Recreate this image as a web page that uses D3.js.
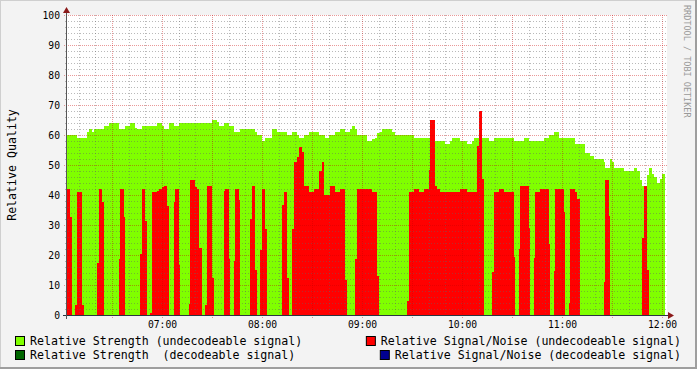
<!DOCTYPE html>
<html>
<head>
<meta charset="utf-8">
<script src="https://cdn.jsdelivr.net/npm/d3@7"></script>
<style>
  body { margin: 0; background: #f3f3f3; }
  svg { display: block; }
  text { font-family: "DejaVu Sans Mono", monospace; }
</style>
</head>
<body>
<script>
// minutes after 06:00, value from that minute until the next change
const strengthMinutes = [3, 9, 15, 16, 18, 19, 25, 28, 34, 38, 41, 44, 45, 48, 57, 60, 61, 64, 67, 70, 90, 93, 94, 97, 100, 103, 107, 116, 117, 120, 122, 126, 129, 135, 138, 141, 142, 145, 148, 154, 158, 160, 164, 167, 170, 173, 174, 176, 177, 183, 186, 188, 189, 191, 192, 198, 200, 211, 224, 230, 233, 234, 239, 243, 246, 247, 256, 259, 271, 277, 280, 289, 292, 295, 298, 308, 314, 317, 319, 325, 326, 329, 330, 331, 337, 343, 345, 347, 348, 351, 352, 354, 355, 357, 359, 360];
const strengthValues = [60, 59, 61, 62, 61, 62, 63, 64, 62, 63, 64, 62.5, 62, 63, 64, 63, 62, 64, 63, 64, 65, 64.5, 63, 64, 63, 61, 62, 61, 60, 58, 59, 62, 61, 60, 61, 60, 59, 60, 61, 60, 59, 60, 61, 62, 61, 62, 63, 62, 60, 58, 58.7, 59, 60.6, 61, 62, 61, 60, 59, 58, 57, 58, 59, 58, 57, 58, 59, 58, 59, 58, 59, 58, 59, 60, 61, 59, 57, 54, 53, 52, 51, 49, 52, 51, 49, 48, 49, 48, 45, 43, 46.7, 49, 47, 46, 44, 45.3, 47];

const snrMinutes = [3, 5, 6, 8, 9, 12, 13, 21, 22, 24, 25, 34, 35, 37, 38, 47, 48, 50, 51, 53, 54, 57, 58, 60, 61, 63, 64, 67, 68, 70, 71, 76, 77, 80, 81, 82, 84, 86, 87, 90, 91, 97, 98, 100, 101, 103, 104, 106, 107, 113, 114, 116, 117, 119, 120, 122, 123, 132, 133, 135, 136, 138, 139, 141, 142, 144, 145, 148, 151, 154, 156, 157, 161, 164, 167, 170, 171, 176, 177, 186, 189, 190, 207, 208, 211, 214, 217, 220, 221, 224, 225, 227, 239, 243, 249, 250, 252, 253, 258, 259, 262, 265, 271, 272, 274, 275, 280, 281, 283, 284, 287, 292, 293, 295, 296, 301, 302, 304, 305, 308, 309, 311, 325, 326, 328, 329, 348, 349, 351, 352];
const snrValues = [42, 32.6, 0, 3.3, 40.9, 3.3, 0, 17.2, 42, 37.8, 0, 18.7, 42, 32.6, 0, 20.3, 42, 31.4, 0, 0.6, 40.9, 41.4, 42, 42.6, 43.1, 36.4, 0, 37.8, 42, 16.7, 0, 3.7, 45, 42.6, 42, 22.2, 0, 3.3, 43.1, 12.2, 0, 41.4, 42, 18.7, 0, 18.1, 42, 38.3, 0, 32, 43, 15, 0, 21.7, 42, 28.7, 0, 36.7, 40.9, 12.4, 0, 28.7, 51, 52.6, 56, 54.2, 43, 41, 42, 48, 51, 40, 43, 41, 42, 11.7, 0, 18.7, 42, 41, 13, 0, 4.7, 41, 42, 41, 42, 48.3, 65, 43, 42, 41, 42, 41, 56.4, 68.1, 45.3, 0, 14.4, 41, 42, 41, 19.2, 0, 22, 43, 28.9, 0, 19.1, 41, 42, 23.7, 0, 14.7, 42, 34.5, 0, 4.1, 42, 41, 38.6, 0, 11.1, 45, 33, 0, 25.8, 43, 15, 0];

const lastMinute = 362;

const yTickValues = [0, 10, 20, 30, 40, 50, 60, 70, 80, 90, 100];
const hourLabels = ["07:00", "08:00", "09:00", "10:00", "11:00", "12:00"];

const legendLabels = [
  "Relative Strength (undecodeable signal)",
  "Relative Signal/Noise (undecodeable signal)",
  "Relative Strength  (decodeable signal)",
  "Relative Signal/Noise (decodeable signal)"
];
const legendColors = ["#80ff00", "#ff0000", "#006600", "#000090"];

const W = 697, H = 369;
const padLeft = 67, padTop = 15, plotW = 600, plotH = 300;

const base = new Date(2010, 0, 1, 6, 0);
const toDate = m => new Date(base.getTime() + m * 60000);
const parseHour = d3.timeParse("%H:%M");
const hourDate = s => { const p = parseHour(s); return new Date(2010, 0, 1, p.getHours(), p.getMinutes()); };

const x = d3.scaleTime().domain([toDate(3), toDate(363)]).range([padLeft, padLeft + plotW]);
const y = d3.scaleLinear().domain([0, 100]).range([padTop + plotH, padTop]);

const svg = d3.select("body").append("svg").attr("width", W).attr("height", H);

// frame
svg.append("rect").attr("width", W).attr("height", H).attr("fill", "#f3f3f3");
svg.append("path").attr("d", `M0,${H} V0 H${W}`).attr("fill", "none").attr("stroke", "#cfcfcf").attr("stroke-width", 2);
svg.append("path").attr("d", `M0,${H - 1} H${W - 1} V0`).attr("fill", "none").attr("stroke", "#9e9e9e").attr("stroke-width", 2);

svg.append("rect").attr("x", padLeft).attr("y", padTop).attr("width", plotW).attr("height", plotH).attr("fill", "#fff");

function steps(mins, vals) {
  const pts = mins.map((m, i) => [toDate(m), vals[i]]);
  pts.push([toDate(lastMinute), vals[vals.length - 1]]);
  return pts;
}

const area = d3.area()
  .curve(d3.curveStepAfter)
  .x(d => x(d[0]))
  .y0(y(0))
  .y1(d => y(d[1]));

svg.append("path").datum(steps(strengthMinutes, strengthValues))
  .attr("d", area).attr("fill", legendColors[0]).attr("shape-rendering", "crispEdges");
svg.append("path").datum(steps(snrMinutes, snrValues))
  .attr("d", area).attr("fill", legendColors[1]).attr("shape-rendering", "crispEdges");

// grid on top
const grid = svg.append("g").attr("shape-rendering", "crispEdges");
const minorY = d3.range(2, 101, 2).filter(v => v % 10 !== 0);
const majorY = yTickValues.filter(v => v > 0);
grid.selectAll(".ym").data(minorY).enter().append("line")
  .attr("x1", padLeft - 2).attr("x2", padLeft + plotW)
  .attr("y1", d => Math.round(y(d)) + 0.5).attr("y2", d => Math.round(y(d)) + 0.5)
  .attr("stroke", "rgba(100,100,100,0.45)").attr("stroke-dasharray", "1,2");
grid.selectAll(".yM").data(majorY).enter().append("line")
  .attr("x1", padLeft - 3).attr("x2", padLeft + plotW)
  .attr("y1", d => Math.round(y(d)) + 0.5).attr("y2", d => Math.round(y(d)) + 0.5)
  .attr("stroke", "rgba(200,0,0,0.4)").attr("stroke-dasharray", "1,1");

const minorX = d3.timeMinute.every(10).range(toDate(3), toDate(364)).filter(d => d.getMinutes() % 30 !== 0);
const majorX = d3.timeMinute.every(30).range(toDate(3), toDate(364));
grid.selectAll(".xm").data(minorX).enter().append("line")
  .attr("y1", padTop).attr("y2", padTop + plotH + 2)
  .attr("x1", d => Math.round(x(d)) + 0.5).attr("x2", d => Math.round(x(d)) + 0.5)
  .attr("stroke", "rgba(100,100,100,0.45)").attr("stroke-dasharray", "1,2");
grid.selectAll(".xM").data(majorX).enter().append("line")
  .attr("y1", padTop).attr("y2", padTop + plotH + 3)
  .attr("x1", d => Math.round(x(d)) + 0.5).attr("x2", d => Math.round(x(d)) + 0.5)
  .attr("stroke", "rgba(200,0,0,0.4)").attr("stroke-dasharray", "1,1");

// axes lines and arrows
svg.append("line").attr("x1", padLeft - 4).attr("x2", padLeft + plotW + 3)
  .attr("y1", padTop + plotH + 0.5).attr("y2", padTop + plotH + 0.5).attr("stroke", "#2c3440");
svg.append("line").attr("x1", padLeft - 0.5).attr("x2", padLeft - 0.5)
  .attr("y1", padTop + plotH + 4).attr("y2", padTop - 4).attr("stroke", "#555");
svg.append("path").attr("d", `M${padLeft + plotW + 1},${padTop + plotH - 3} L${padLeft + plotW + 7},${padTop + plotH + 0.5} L${padLeft + plotW + 1},${padTop + plotH + 4} Z`).attr("fill", "#8b1a1a");
svg.append("path").attr("d", `M${padLeft - 4},${padTop - 2} L${padLeft - 0.5},${padTop - 8} L${padLeft + 3},${padTop - 2} Z`).attr("fill", "#8b1a1a");

// tick labels
const yAxis = d3.axisLeft(y).tickValues(yTickValues).tickSize(0).tickPadding(7);
svg.append("g").attr("transform", `translate(${padLeft},0)`).call(yAxis)
  .call(g => g.select(".domain").remove())
  .selectAll("text").attr("font-family", "DejaVu Sans Mono").attr("font-size", "9.7px").attr("fill", "#000");

const xAxis = d3.axisBottom(x).tickValues(hourLabels.map(hourDate)).tickFormat(d3.timeFormat("%H:%M")).tickSize(0).tickPadding(6);
svg.append("g").attr("transform", `translate(0,${padTop + plotH})`).call(xAxis)
  .call(g => g.select(".domain").remove())
  .selectAll("text").attr("font-family", "DejaVu Sans Mono").attr("font-size", "9.7px").attr("fill", "#000");

// y title
svg.append("text").attr("transform", `translate(16,${padTop + plotH / 2}) rotate(-90)`)
  .attr("text-anchor", "middle").attr("font-size", "11.6px").attr("fill", "#000")
  .text("Relative Quality");

// watermark
svg.append("text").attr("transform", `translate(684,5) rotate(90)`)
  .attr("font-size", "8.5px").attr("fill", "#999")
  .text("RRDTOOL / TOBI OETIKER");

// legend
const legendRows = [345, 359];
legendLabels.forEach((label, i) => {
  const row = Math.floor(i / 2), right = i % 2 === 1;
  const t = svg.append("text").attr("y", legendRows[row]).attr("font-size", "11.6px")
    .attr("fill", "#000").attr("xml:space", "preserve").style("white-space", "pre").text(label);
  let tx = 30;
  if (right) {
    tx = 681 - t.node().getComputedTextLength();
  }
  t.attr("x", tx);
  svg.append("rect").attr("x", tx - 14.5).attr("y", legendRows[row] - 8.5)
    .attr("width", 9).attr("height", 9)
    .attr("fill", legendColors[i]).attr("stroke", "#000").attr("stroke-width", 1);
});
</script>
</body>
</html>
